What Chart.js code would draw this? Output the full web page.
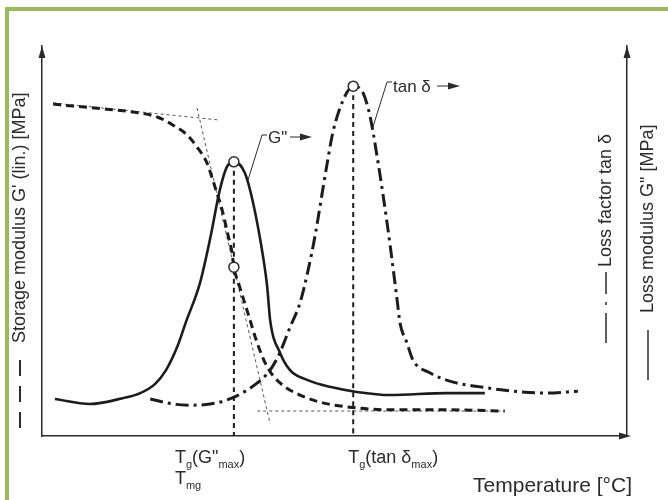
<!DOCTYPE html>
<html>
<head>
<meta charset="utf-8">
<script src="https://cdn.jsdelivr.net/npm/chart.js@4.4.0/dist/chart.umd.min.js"></script>
<style>
  html, body { margin: 0; padding: 0; background: #fff; }
  #marco { position: absolute; left: 5px; top: 7px; right: 0; bottom: 0;
           border-top: 4px solid #9bbb59; border-left: 4px solid #9bbb59; }
  #caja { position: absolute; left: 0; top: 0; width: 668px; height: 500px; }
</style>
</head>
<body>
<div id="marco"></div>
<div id="caja"><canvas id="grafico" width="668" height="500"></canvas></div>
<script>
// Datos (temperatura relativa 0-100, valores relativos 0-100)
const storageX = [1.9, 5.3, 11.1, 16.8, 19.7, 22.4, 24.8, 26.5, 28.2, 29.2, 29.9, 30.8, 31.8, 32.5, 32.8, 33.7, 35.2, 36.8, 38.5, 40.7, 44.1, 48.0, 52.6, 59.5, 69.7, 79.1];
const storageY = [85.1, 84.6, 83.8, 82.8, 81.8, 79.7, 77.2, 74.1, 70.0, 65.6, 62.3, 57.9, 51.5, 46.9, 43.3, 38.7, 31.5, 23.8, 17.7, 13.6, 10.5, 8.5, 7.4, 6.7, 6.7, 6.4];

const lossX = [2.2, 8.2, 13.8, 16.8, 19.3, 21.2, 23.1, 24.6, 27.0, 28.7, 30.4, 31.6, 32.8, 34.7, 36.1, 37.8, 38.5, 39.0, 40.7, 42.4, 45.3, 49.2, 53.8, 59.5, 69.2, 75.7];
const lossY = [9.5, 8.2, 9.7, 11.0, 13.3, 16.9, 22.8, 29.2, 39.2, 50.3, 63.1, 69.0, 70.3, 67.4, 59.7, 45.9, 38.2, 29.7, 21.3, 16.9, 14.4, 12.6, 11.3, 10.5, 11.0, 11.0];

const tanX = [18.5, 22.4, 25.3, 29.9, 33.3, 36.8, 39.0, 40.7, 42.4, 44.1, 45.5, 46.7, 47.7, 48.7, 49.7, 51.5, 53.2, 54.9, 56.1, 57.3, 58.3, 59.5, 60.7, 61.2, 62.4, 63.4, 66.3, 70.3, 74.9, 80.5, 86.3, 91.6];
const tanY = [9.5, 8.2, 7.9, 8.5, 10.3, 13.6, 16.9, 21.5, 27.9, 34.1, 42.6, 51.5, 60.5, 69.5, 77.7, 86.2, 89.7, 87.9, 81.8, 71.5, 61.8, 49.0, 34.9, 29.0, 23.8, 19.5, 16.2, 13.8, 12.6, 11.5, 11.0, 11.5];

// Tangentes del modulo de almacenamiento
const tangenteArribaX = [1.9, 30.4];
const tangenteArribaY = [85.4, 81.0];
const tangenteCaidaX = [26.5, 39.0];
const tangenteCaidaY = [84.1, 3.1];
const tangenteAbajoX = [36.8, 79.1];
const tangenteAbajoY = [6.4, 6.4];

// Temperaturas de transicion y puntos marcados
const tgGmax = 32.8;
const tgTanMax = 53.2;
const marcasX = [32.8, 32.8, 53.2];
const marcasY = [70.3, 43.3, 89.7];

const FUENTE = '"Liberation Sans", Arial, sans-serif';

function puntos(xs, ys) {
    return xs.map((x, i) => ({ x: x, y: ys[i] }));
}

function linea(data, color, ancho, dash) {
    return {
        data: data,
        borderColor: color,
        borderWidth: ancho,
        borderDash: dash,
        pointRadius: 0,
        fill: false,
        cubicInterpolationMode: 'monotone'
    };
}

// Flechas de los ejes
function flecha(ctx, x, y, dir) {
    ctx.beginPath();
    if (dir === 'up') {
        ctx.moveTo(x, y);
        ctx.lineTo(x - 3.5, y + 12);
        ctx.lineTo(x + 3.5, y + 12);
    } else {
        ctx.moveTo(x, y);
        ctx.lineTo(x - 12, y - 3.5);
        ctx.lineTo(x - 12, y + 3.5);
    }
    ctx.closePath();
    ctx.fill();
}

// Texto con subindices: [texto, esSub]
function textoSub(ctx, partes, x, y, tam) {
    let cx = x;
    partes.forEach(([t, sub]) => {
        ctx.font = (sub ? Math.round(tam * 0.62) : tam) + 'px ' + FUENTE;
        ctx.fillText(t, cx, y + (sub ? 5 : 0));
        cx += ctx.measureText(t).width;
    });
}

function textoVertical(ctx, t, x, yInicio, tam) {
    ctx.save();
    ctx.translate(x, yInicio);
    ctx.rotate(-Math.PI / 2);
    ctx.font = tam + 'px ' + FUENTE;
    ctx.textBaseline = 'middle';
    ctx.textAlign = 'left';
    ctx.fillText(t, 0, 0);
    ctx.restore();
}

function muestra(ctx, x, y1, y2, dash, ancho) {
    ctx.save();
    ctx.setLineDash(dash);
    ctx.lineWidth = ancho;
    ctx.beginPath();
    ctx.moveTo(x, y1);
    ctx.lineTo(x, y2);
    ctx.stroke();
    ctx.restore();
}

const adornos = {
    id: 'adornos',
    afterDraw(chart) {
        const { ctx, chartArea: a, scales: { x, y } } = chart;
        ctx.save();
        ctx.fillStyle = '#2b2b2b';
        ctx.strokeStyle = '#2b2b2b';

        flecha(ctx, a.left, a.top, 'up');
        flecha(ctx, a.right, a.top, 'up');
        flecha(ctx, a.right + 4, a.bottom, 'right');

        // Etiquetas bajo el eje x
        const px1 = x.getPixelForValue(tgGmax);
        const px2 = x.getPixelForValue(tgTanMax);
        ctx.textBaseline = 'alphabetic';
        textoSub(ctx, [['T', false], ['g', true], ['(G"', false], ['max', true], [')', false]], px1 - 59, 463, 18);
        textoSub(ctx, [['T', false], ['mg', true]], px1 - 59, 484, 18);
        textoSub(ctx, [['T', false], ['g', true], ['(tan δ', false], ['max', true], [')', false]], px2 - 5, 463, 18);

        ctx.font = '21px ' + FUENTE;
        ctx.textAlign = 'right';
        ctx.fillText('Temperature [°C]', 632, 492);
        ctx.textAlign = 'left';

        // Titulos de los ejes
        textoVertical(ctx, "Storage modulus G' (lin.) [MPa]", 20, 343, 18);
        muestra(ctx, 20, 428, 350, [16, 10], 2);
        textoVertical(ctx, 'Loss factor tan δ', 606, 267, 18);
        muestra(ctx, 606, 343, 272, [30, 8, 3, 8], 1.5);
        textoVertical(ctx, 'Loss modulus G" [MPa]', 648, 313, 18);
        muestra(ctx, 648, 380, 330, [], 1.5);

        // Rotulos de las curvas
        ctx.font = '17px ' + FUENTE;
        ctx.fillText('G"', 268, 143);
        ctx.fillText('tan δ', 393, 92);
        ctx.lineWidth = 1;
        ctx.beginPath();
        ctx.moveTo(248, 180); ctx.lineTo(262, 135); ctx.lineTo(267, 135);
        ctx.moveTo(372, 130); ctx.lineTo(387, 82); ctx.lineTo(392, 82);
        ctx.moveTo(290, 137); ctx.lineTo(304, 137);
        ctx.moveTo(437, 86); ctx.lineTo(452, 86);
        ctx.stroke();
        flecha(ctx, 312, 137, 'right');
        flecha(ctx, 460, 86, 'right');
        ctx.restore();
    }
};

const ctx = document.getElementById('grafico').getContext('2d');
const ejeSinMarcas = (pos) => ({
    type: 'linear',
    position: pos,
    min: 0,
    max: 100,
    grid: { display: false, drawTicks: false },
    ticks: { display: false },
    border: { display: true, color: '#2b2b2b', width: 1.5 }
});

const myChart = new Chart(ctx, {
    type: 'line',
    data: {
        datasets: [
            {
                data: puntos(marcasX, marcasY),
                showLine: false,
                pointRadius: 5,
                pointBackgroundColor: '#ffffff',
                pointBorderColor: '#2b2b2b',
                pointBorderWidth: 1.5
            },
            linea(puntos(lossX, lossY), '#1c1c1c', 2.6, []),
            linea(puntos(storageX, storageY), '#1c1c1c', 3, [8, 5]),
            linea(puntos(tanX, tanY), '#1c1c1c', 3, [13, 5, 3, 5]),
            linea([{ x: tgGmax, y: 70.3 }, { x: tgGmax, y: 0 }], '#1c1c1c', 2, [5, 4]),
            linea([{ x: tgTanMax, y: 89.7 }, { x: tgTanMax, y: 0 }], '#1c1c1c', 2, [5, 4]),
            linea(puntos(tangenteArribaX, tangenteArribaY), '#555555', 1, [3, 3]),
            linea(puntos(tangenteCaidaX, tangenteCaidaY), '#555555', 1, [3, 3]),
            linea(puntos(tangenteAbajoX, tangenteAbajoY), '#555555', 1, [3, 3])
        ]
    },
    options: {
        responsive: false,
        animation: false,
        layout: { padding: { left: 42, right: 41, top: 46, bottom: 64 } },
        scales: {
            x: ejeSinMarcas('bottom'),
            y: ejeSinMarcas('left'),
            y1: ejeSinMarcas('right')
        },
        plugins: {
            legend: { display: false },
            tooltip: { enabled: false }
        }
    },
    plugins: [adornos]
});
</script>
</body>
</html>
